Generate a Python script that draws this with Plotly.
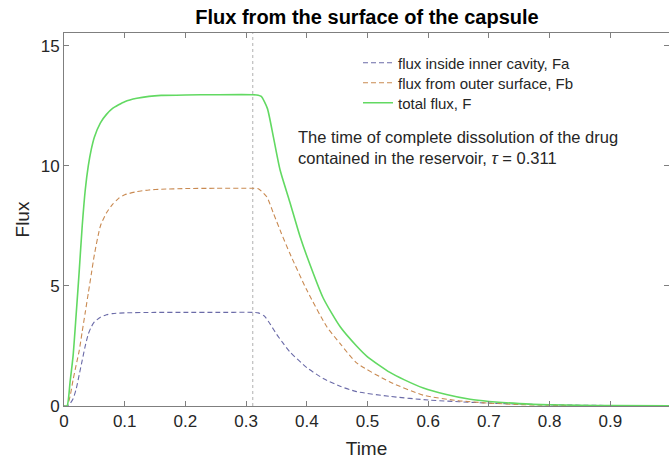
import plotly.graph_objects as go

# ---- data ----
tau = 0.311

t_Fa = [0.0, 0.005, 0.01, 0.015, 0.02, 0.025, 0.03, 0.035, 0.04, 0.045, 0.05, 0.06, 0.07, 0.08,
        0.1, 0.15, 0.2, 0.25, 0.311, 0.32, 0.33, 0.34, 0.35, 0.36, 0.372, 0.4, 0.427, 0.455,
        0.482, 0.537, 0.6, 0.7, 0.8, 0.9, 1.0]
Fa = [0.0, 0.0, 0.1, 0.3, 0.7, 1.3, 1.9, 2.5, 3.0, 3.3, 3.5, 3.7, 3.8, 3.85,
      3.88, 3.9, 3.9, 3.9, 3.9, 3.88, 3.75, 3.4, 3.0, 2.65, 2.26, 1.6, 1.15, 0.82,
      0.6, 0.4, 0.25, 0.12, 0.05, 0.02, 0.01]

t_Fb = [0.0, 0.005, 0.01, 0.015, 0.02, 0.025, 0.03, 0.035, 0.04, 0.045, 0.05, 0.06, 0.07, 0.08,
        0.09, 0.1, 0.12, 0.14, 0.16, 0.2, 0.25, 0.311, 0.32, 0.334, 0.345, 0.358, 0.372, 0.4,
        0.433, 0.455, 0.482, 0.537, 0.592, 0.65, 0.7, 0.75, 0.8, 0.9, 1.0]
Fb = [0.0, 0.0, 0.4, 1.1, 1.7, 2.3, 3.1, 3.9, 4.7, 5.5, 6.3, 7.5, 8.05, 8.4,
      8.65, 8.8, 8.93, 9.0, 9.03, 9.06, 9.07, 9.07, 9.05, 8.72, 8.03, 7.2, 6.36, 4.83,
      3.3, 2.6, 1.8, 1.0, 0.45, 0.22, 0.12, 0.06, 0.03, 0.01, 0.0]

t_F = [0.0, 0.005, 0.01, 0.015, 0.02, 0.025, 0.03, 0.035, 0.04, 0.045, 0.05, 0.06, 0.07, 0.08,
       0.09, 0.1, 0.12, 0.14, 0.16, 0.2, 0.25, 0.311, 0.32, 0.325, 0.335, 0.345, 0.356, 0.372,
       0.389, 0.4, 0.427, 0.455, 0.482, 0.5, 0.537, 0.56, 0.592, 0.63, 0.669, 0.7, 0.75,
       0.8, 0.85, 0.9, 1.0]
F = [0.0, 0.0, 1.0, 2.1, 3.8, 5.6, 7.5, 9.0, 10.0, 10.7, 11.2, 11.8, 12.15, 12.4,
     12.55, 12.68, 12.82, 12.9, 12.94, 12.96, 12.97, 12.97, 12.95, 12.9, 12.4, 11.2, 9.83, 8.5,
     7.05, 6.25, 4.5, 3.3, 2.5, 2.05, 1.4, 1.1, 0.75, 0.48, 0.28, 0.19, 0.1,
     0.05, 0.03, 0.015, 0.005]

x_ticks = [0, 0.1, 0.2, 0.3, 0.4, 0.5, 0.6, 0.7, 0.8, 0.9, 1]
y_ticks = [0, 5, 10, 15]

names = ["flux inside inner cavity, Fa", "flux from outer surface, Fb", "total flux, F"]
title = "Flux from the surface of the capsule"
note = ("The time of complete dissolution of the drug<br>"
        "contained in the reservoir, <i>τ</i> = " + str(tau))

# ---- figure ----
W, H = 669, 459
ml, mt, mb, mr = 64, 33, 53, 0
PH = H - mt - mb
pw = W - ml - mr
FONT = "Liberation Sans, Arial, sans-serif"
TXT = "#262626"
AX = "#7f7f7f"

fig = go.Figure()
fig.add_trace(go.Scatter(x=t_Fa, y=Fa, mode="lines", name=names[0], legend="legend",
                         line=dict(color="#6b6ba8", width=1.1, dash="5px,3px",
                                   shape="spline", smoothing=0.6)))
fig.add_trace(go.Scatter(x=t_Fb, y=Fb, mode="lines", name=names[1], legend="legend2",
                         line=dict(color="#c98a52", width=1.1, dash="5px,3px",
                                   shape="spline", smoothing=0.6)))
fig.add_trace(go.Scatter(x=t_F, y=F, mode="lines", name=names[2], legend="legend3",
                         line=dict(color="#62d962", width=1.6, shape="spline", smoothing=0.6)))

fig.add_shape(type="line", xref="x", yref="y domain", x0=tau, x1=tau, y0=0, y1=1,
              line=dict(color="#b0b0b0", width=1, dash="dot"), layer="below")

xr_end = pw / 607.0
fig.update_xaxes(range=[0, xr_end], tickvals=x_ticks, ticks="inside", ticklen=5,
                 tickcolor=AX, showline=True, linecolor=AX, linewidth=1, mirror="ticks",
                 showgrid=False, zeroline=False, automargin=False,
                 tickfont=dict(family=FONT, size=17, color=TXT),
                 title=dict(text="Time", font=dict(family=FONT, size=19, color=TXT), standoff=11))
fig.update_yaxes(range=[0, 15.54], tickvals=y_ticks, ticks="inside", ticklen=5,
                 tickcolor=AX, showline=True, linecolor=AX, linewidth=1, mirror="ticks",
                 showgrid=False, zeroline=False, automargin=False,
                 tickfont=dict(family=FONT, size=17, color=TXT),
                 title=dict(text="Flux", font=dict(family=FONT, size=19, color=TXT), standoff=6))

fig.add_annotation(x=(296 - ml) / pw, y=1 - (126 - mt) / PH, xref="paper", yref="paper",
                   text=note, showarrow=False, xanchor="left", yanchor="top", align="left",
                   font=dict(family=FONT, size=16.5, color=TXT))


def leg(ycenter):
    return dict(x=(358 - ml) / pw, y=1 - (ycenter - mt) / PH, xanchor="left", yanchor="middle",
                bgcolor="rgba(0,0,0,0)", borderwidth=0,
                font=dict(family=FONT, size=15, color=TXT), itemwidth=30)


fig.update_layout(
    width=W, height=H,
    margin=dict(l=ml, r=mr, t=mt, b=mb),
    paper_bgcolor="white", plot_bgcolor="white",
    title=dict(text="<b>" + title + "</b>", x=367 / W, xanchor="center", xref="container",
               y=1 - 17 / H, yanchor="middle", yref="container",
               font=dict(family=FONT, size=20, color="black")),
    showlegend=True,
    legend=leg(63), legend2=leg(83), legend3=leg(103),
)

fig.write_html("out.html", config={"displayModeBar": False},
               post_script="document.body.style.margin='0';")
